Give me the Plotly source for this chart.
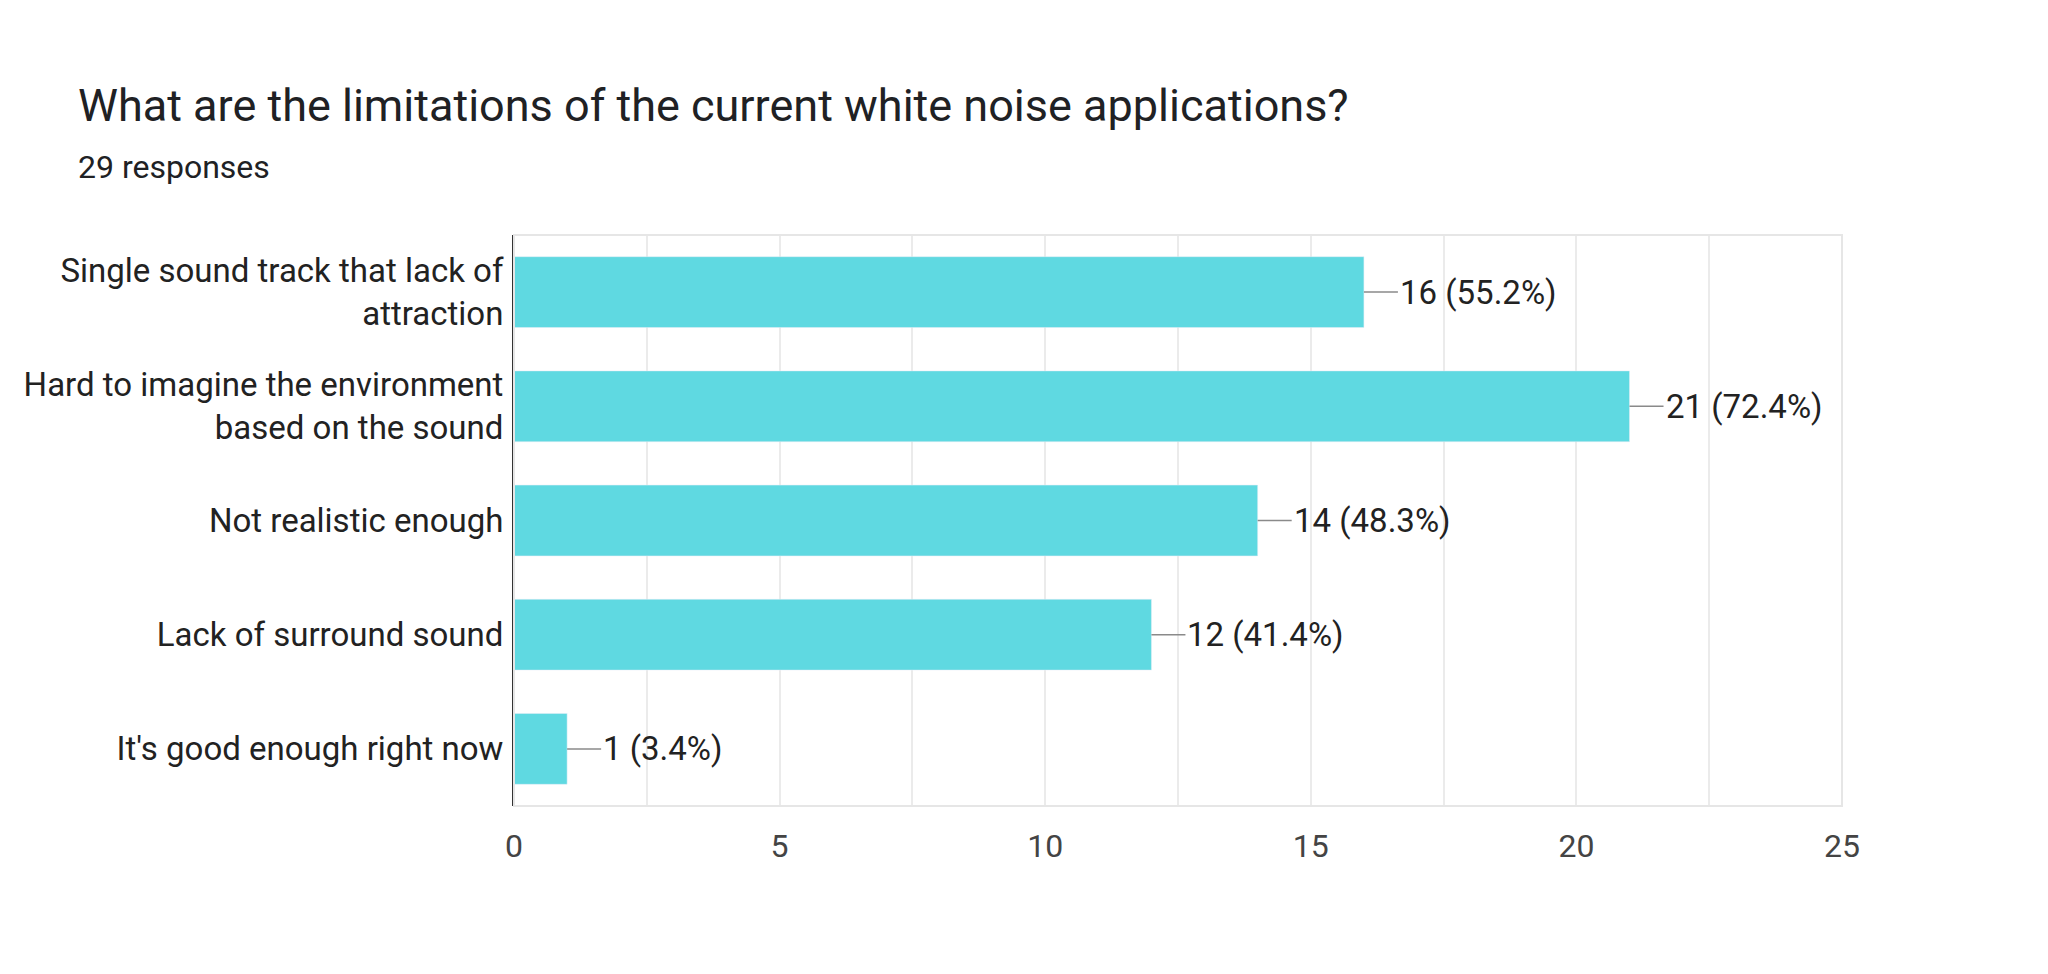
import plotly.graph_objects as go

# -- Dados
categorias = ["Single sound track that lack of<br>attraction",
              "Hard to imagine the environment<br>based on the sound",
              "Not realistic enough",
              "Lack of surround sound",
              "It's good enough right now"]
respostas = [16, 21, 14, 12, 1]
percentuais = [55.2, 72.4, 48.3, 41.4, 3.4]

fig = go.Figure(go.Bar(
    x=respostas, y=categorias, orientation="h",
    marker_color="#5fd9e1", width=0.62, hoverinfo="skip"))

# -- Rotulos com linha de ligacao
for v, p, c in zip(respostas, percentuais, categorias):
    fig.add_annotation(x=v, y=c, text=f"{v} ({p}%)", showarrow=True,
                       arrowhead=0, arrowwidth=1.5, arrowcolor="#8a8a8a",
                       ax=34, ay=0, xanchor="left", standoff=0,
                       font=dict(size=33, color="#222222"))

fig.add_shape(type="rect", xref="paper", yref="paper", x0=0, x1=1, y0=0, y1=1,
              line=dict(color="#e6e6e6", width=2))

fig.update_layout(
    width=2048, height=974,
    paper_bgcolor="white", plot_bgcolor="white",
    font=dict(family="Roboto, Arial", color="#222222"),
    margin=dict(l=506, r=214, t=227, b=176),
    showlegend=False,
    bargap=0.38,
)
fig.add_annotation(text="What are the limitations of the current white noise applications?",
                   xref="paper", yref="paper", x=-438/1328, y=1 + 130/571,
                   xanchor="left", yanchor="middle", showarrow=False,
                   font=dict(size=45, color="#202124"))
fig.add_annotation(text="29 responses", xref="paper", yref="paper",
                   x=-438/1328, y=1 + 68/571, xanchor="left", yanchor="middle",
                   showarrow=False, font=dict(size=32, color="#202124"))

fig.update_xaxes(range=[0, 25], dtick=5, showgrid=True, gridcolor="#ebebeb", gridwidth=2,
                 minor=dict(dtick=2.5, showgrid=True, gridcolor="#ebebeb"),
                 zeroline=False, showline=False,
                 tickfont=dict(size=32, color="#444444"), ticks="", ticklabelstandoff=18)
fig.update_yaxes(autorange="reversed", showline=True, linecolor="#333333", linewidth=2,
                 showgrid=False, ticks="", tickfont=dict(size=33, color="#222222"),
                 ticklabelstandoff=2)

fig.write_html("out.html")
